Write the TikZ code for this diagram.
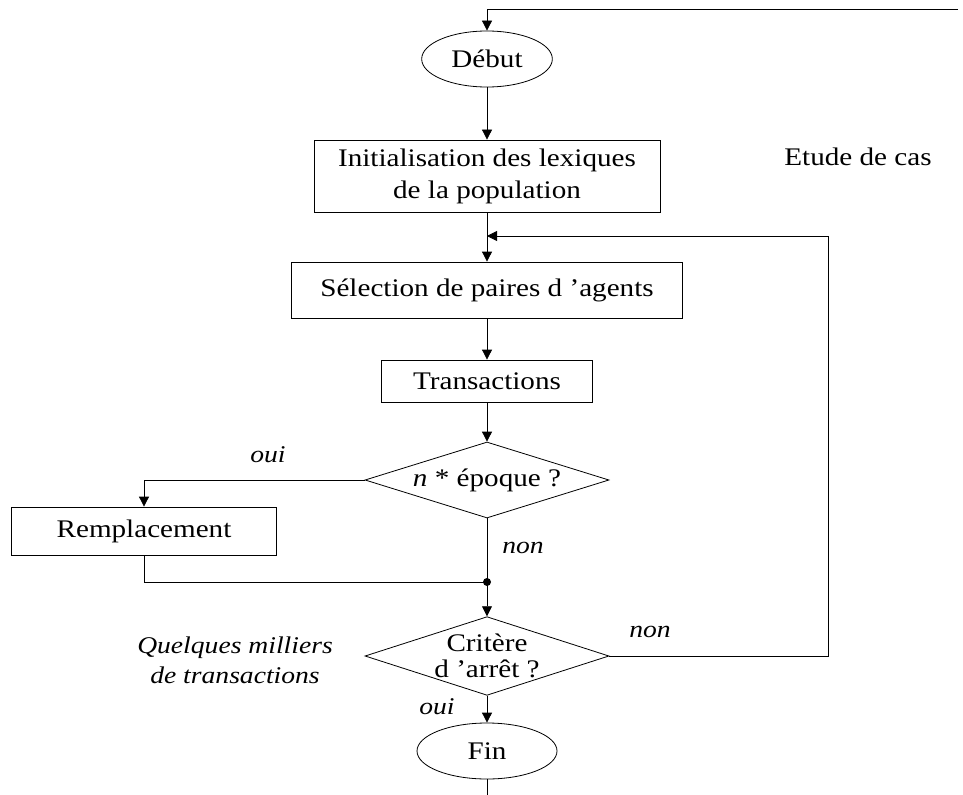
\documentclass[tikz,border=0pt]{standalone}
\usepackage{fontspec}
\setmainfont[FakeStretch=1.15]{Liberation Serif}
\usetikzlibrary{arrows.meta, shapes.geometric}

\begin{document}
\begin{tikzpicture}[
        x=0.75pt, y=-0.75pt,
        every node/.style={font=\fontsize{19}{24}\selectfont},
        box/.style={rectangle, draw, line width=0.6pt, inner sep=0pt, align=center},
        term/.style={ellipse, draw, line width=0.6pt, inner sep=0pt, minimum width=98pt, minimum height=42pt},
        decision/.style={diamond, draw, line width=0.6pt, inner sep=0pt, minimum width=183pt, minimum height=57pt},
        note/.style={font=\fontsize{18}{22.5}\itshape, align=center},
        arrow/.style={-{Triangle[length=7.5pt, width=7.5pt]}, line width=0.6pt},
        line/.style={line width=0.6pt}
    ]
        \useasboundingbox (0,0) rectangle (963,795);

        \node[term] (debut) at (487,59) {Début};
        \node[box, minimum width=259.5pt, minimum height=54pt] (init) at (487,176) {Initialisation des lexiques\\de la population};
        \node[box, minimum width=293pt, minimum height=42pt] (select) at (487,290) {Sélection de paires d 'agents};
        \node[box, minimum width=158pt, minimum height=31.5pt] (trans) at (487,381) {Transactions};
        \node[decision, label={center:\textit{n} * époque ?}] (epoque) at (487,480) {};
        \node[box, minimum width=199pt, minimum height=36pt] (remp) at (144,531) {Remplacement};
        \node[decision, minimum height=59pt, label={[align=center, font=\fontsize{19}{19.5}\selectfont]center:Critère\\d 'arrêt ?}] (critere) at (487,656) {};
        \node[term, minimum width=105pt] (fin) at (487,751) {Fin};

        \node (etude) at (858,157) {Etude de cas};
        \node[note] (ouiA) at (268,455) {oui};
        \node[note] (nonA) at (523,548) {non};
        \node[note] (nonB) at (650,632) {non};
        \node[note] (ouiB) at (437,707) {oui};
        \node[note] (milliers) at (235,660) {Quelques milliers\\de transactions};

        \coordinate (start) at (958,9);
        \coordinate (join) at (487,582);
        \coordinate (loop) at (828,236);
        \coordinate (stop) at (487,795);

        \draw[arrow] (start) -| (debut.north);
        \draw[arrow] (debut) -- (init);
        \draw[arrow] (init) -- (select);
        \draw[arrow] (select) -- (trans);
        \draw[arrow] (trans) -- (epoque);
        \draw[arrow] (epoque.west) -| (remp.north);
        \draw[line] (remp.south) |- (join);
        \draw[line] (epoque.south) -- (join);
        \fill (join) circle (4);
        \draw[arrow] (join) -- (critere.north);
        \draw[arrow] (critere.east) -| (loop) -- (init.south |- loop);
        \draw[arrow] (critere) -- (fin);
        \draw[line] (fin) -- (stop);
    \end{tikzpicture}
\end{document}
